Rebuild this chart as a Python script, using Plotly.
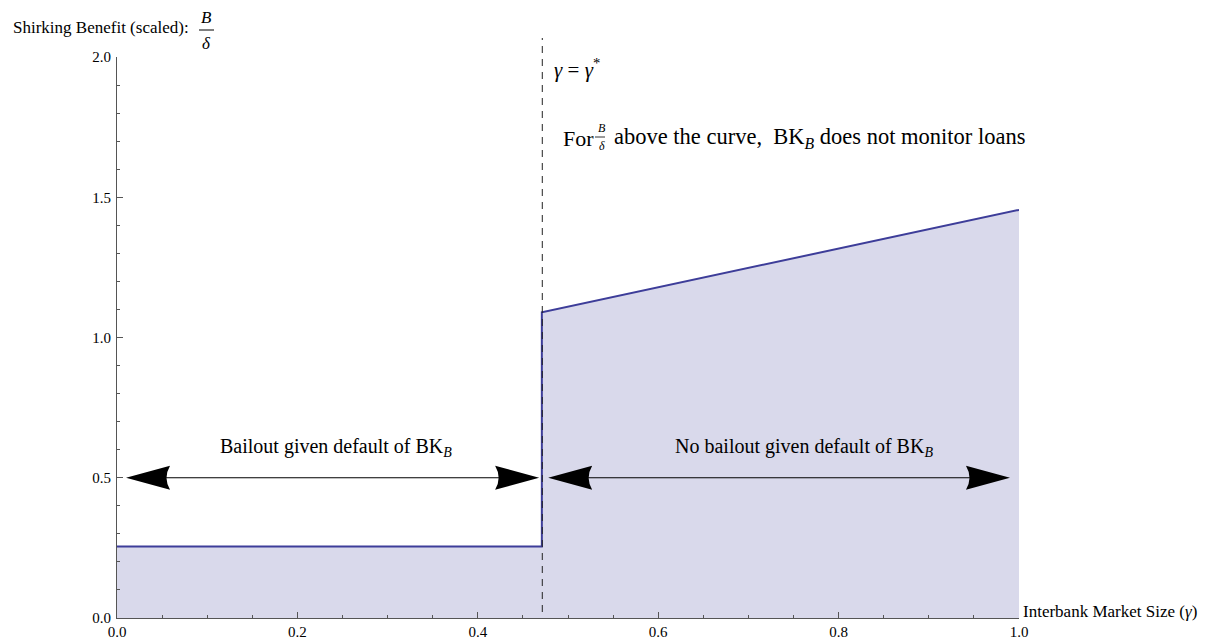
import plotly.graph_objects as go

# ---- data ----
curve_x = [0.0, 0.471, 0.471, 1.0]
curve_y = [0.255, 0.255, 1.09, 1.455]
gamma_star = 0.4715
arrow_left = [0.01, 0.468]     # bailout region arrow (x ends)
arrow_right = [0.478, 0.99]    # no-bailout region arrow (x ends)
arrow_y = 0.5
x_ticks = [0.0, 0.2, 0.4, 0.6, 0.8, 1.0]
x_tick_labels = ["0.0", "0.2", "0.4", "0.6", "0.8", "1.0"]
y_ticks = [0.0, 0.5, 1.0, 1.5, 2.0]
y_tick_labels = ["0.0", "0.5", "1.0", "1.5", "2.0"]

FONT = "Liberation Serif"
LINE_COLOR = "#3d3d99"
FILL_COLOR = "#d9d9eb"
AXIS_COLOR = "#555555"

fig = go.Figure()
fig.add_trace(go.Scatter(
    x=curve_x, y=curve_y, mode="lines", fill="tozeroy",
    fillcolor=FILL_COLOR, line=dict(color=LINE_COLOR, width=2),
    hoverinfo="skip", showlegend=False))

def px(p):
    return (p - 117) / 902

def py(p):
    return (618 - p) / 561

shapes = []
# dashed vertical line at gamma*
shapes.append(dict(type="line", xref="x", yref="paper", x0=gamma_star, x1=gamma_star,
                   y0=py(612), y1=py(38), line=dict(color="#222222", width=1, dash="7px,6px")))

# arrows (shaft + heads)
head_r = "M0,0 L-44,12 Q-37,0 -44,-12 Z"
head_l = "M0,0 L44,12 Q37,0 44,-12 Z"
for (xa, xb) in (arrow_left, arrow_right):
    shapes.append(dict(type="line", xref="x", yref="y", x0=xa + 0.02, x1=xb - 0.02,
                       y0=arrow_y, y1=arrow_y, line=dict(color="black", width=1)))
    shapes.append(dict(type="path", xref="x", yref="y", xsizemode="pixel", ysizemode="pixel",
                       xanchor=xa, yanchor=arrow_y, path=head_l,
                       fillcolor="black", line=dict(width=0)))
    shapes.append(dict(type="path", xref="x", yref="y", xsizemode="pixel", ysizemode="pixel",
                       xanchor=xb, yanchor=arrow_y, path=head_r,
                       fillcolor="black", line=dict(width=0)))

# fraction bars
shapes.append(dict(type="line", xref="paper", yref="paper",
                   x0=px(199), x1=px(214), y0=py(30), y1=py(30),
                   line=dict(color="black", width=1)))
shapes.append(dict(type="line", xref="paper", yref="paper",
                   x0=px(595), x1=px(605), y0=py(137), y1=py(137),
                   line=dict(color="black", width=0.8)))

annotations = []
def ann(text, x, y, size=15, xanchor="left", yanchor="middle"):
    annotations.append(dict(text=text, x=x, y=y, xref="paper", yref="paper", showarrow=False,
                            xanchor=xanchor, yanchor=yanchor,
                            font=dict(family=FONT, size=size, color="black")))

# y axis title with fraction
ann("Shirking Benefit (scaled):", px(11), py(28), size=17)
ann("<i>B</i>", px(206.5), py(17), size=17, xanchor="center")
ann("<i>δ</i>", px(206.5), py(43), size=17, xanchor="center")
# x axis title
ann("Interbank Market Size (<i>γ</i>)", px(1021), py(611), size=17)
# gamma = gamma*
ann("<i>γ</i> = <i>γ</i><sup>*</sup>", px(552), py(68), size=21)
# For B/δ above the curve ...
ann("For", px(561), py(138), size=22)
ann("<i>B</i>", px(602), py(128), size=12, xanchor="center")
ann("<i>δ</i>", px(602), py(146), size=12, xanchor="center")
ann("above the curve,  BK<sub><i>B</i></sub> does not monitor loans", px(612), py(138), size=22.5)
# region labels
ann("Bailout given default of BK<sub><i>B</i></sub>", px(336), py(447), size=20, xanchor="center")
ann("No bailout given default of BK<sub><i>B</i></sub>", px(804), py(447), size=20, xanchor="center")

fig.update_layout(
    width=1222, height=639,
    margin=dict(l=117, r=203, t=57, b=21, autoexpand=False),
    paper_bgcolor="white", plot_bgcolor="white",
    shapes=shapes, annotations=annotations,
    font=dict(family=FONT, size=15, color="black"),
    xaxis=dict(range=[0, 1], showgrid=False, zeroline=False, showline=True,
               linecolor=AXIS_COLOR, linewidth=1, ticks="inside", ticklen=6,
               tickcolor=AXIS_COLOR, tickvals=x_ticks, ticktext=x_tick_labels,
               tickfont=dict(family=FONT, size=15), ticklabelstandoff=0,
               minor=dict(ticks="inside", ticklen=3, dtick=0.05, tickcolor=AXIS_COLOR,
                          showgrid=False)),
    yaxis=dict(range=[0, 2], showgrid=False, zeroline=False, showline=True,
               linecolor=AXIS_COLOR, linewidth=1, ticks="inside", ticklen=6,
               tickcolor=AXIS_COLOR, tickvals=y_ticks, ticktext=y_tick_labels,
               tickfont=dict(family=FONT, size=15), ticklabelstandoff=2,
               minor=dict(ticks="inside", ticklen=3, dtick=0.1, tickcolor=AXIS_COLOR,
                          showgrid=False)),
)

fig.write_html("out.html", config={"displayModeBar": False},
               post_script="document.body.style.margin='0';document.body.style.overflow='hidden';")
